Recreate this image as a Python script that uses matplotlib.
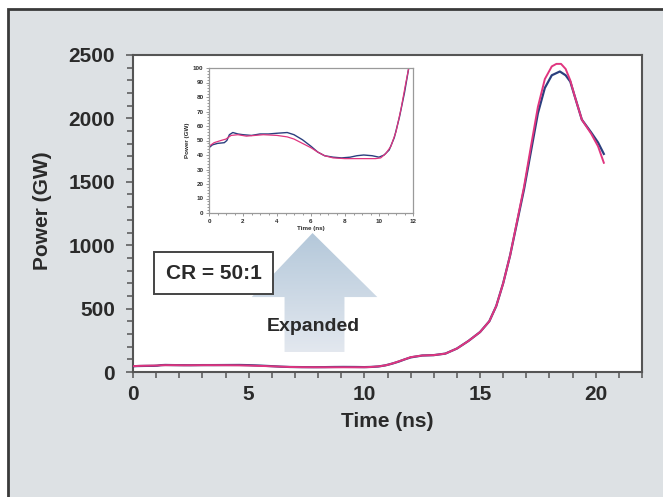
import numpy as np
import matplotlib.pyplot as plt
from matplotlib.patches import Rectangle, Polygon
from matplotlib.ticker import MultipleLocator

# pulse power traces (time in ns, power in GW)
t_blue = [0.0, 0.2, 0.5, 0.9, 1.05, 1.2, 1.4, 1.7, 2.0, 2.5, 3.0, 3.5, 4.0, 4.6, 5.0,
          5.5, 6.0, 6.4, 6.8, 7.3, 7.8, 8.3, 8.7, 9.1, 9.6, 10.0, 10.3, 10.6, 10.9,
          11.2, 11.5, 11.75, 12.0, 12.5, 13.0, 13.5, 14.0, 14.5, 15.0, 15.4, 15.7,
          16.0, 16.3, 16.6, 16.9, 17.2, 17.5, 17.8, 18.1, 18.45, 18.7, 18.9, 19.1,
          19.4, 19.8, 20.1, 20.35]
p_blue = [45, 47, 48, 48.5, 50, 54, 55.5, 54.5, 54, 53.5, 54.5, 54.5, 55, 55.5, 54,
          50.5, 46, 42, 39.5, 38.5, 38, 38.5, 39.5, 40, 39.5, 38.5, 40, 43.5, 52,
          66, 83, 100, 115, 130, 133, 145, 185, 245, 315, 400, 520,
          700, 920, 1180, 1440, 1740, 2040, 2240, 2340, 2370, 2340, 2290, 2170,
          1990, 1890, 1810, 1720]

t_red = [0.0, 0.3, 0.7, 1.0, 1.3, 1.7, 2.2, 2.7, 3.2, 4.0, 4.6, 5.0, 5.5, 6.0, 6.4,
         6.8, 7.3, 8.0, 8.6, 9.2, 9.8, 10.1, 10.4, 10.7, 11.0, 11.3, 11.55, 11.75,
         12.0, 12.5, 13.0, 13.5, 14.0, 14.5, 15.0, 15.4, 15.7, 16.0, 16.3, 16.6,
         16.9, 17.2, 17.5, 17.8, 18.1, 18.3, 18.5, 18.7, 18.9, 19.1, 19.4, 19.8,
         20.1, 20.35]
p_red = [46, 48.5, 50, 51, 53.5, 54, 53, 53.5, 54, 53.5, 52.5, 51, 48, 45, 42,
         39.5, 38, 37.5, 37.5, 37.5, 37.5, 38, 41, 46, 56, 72, 88, 100,
         117, 130, 133, 145, 185, 245, 315, 400, 520, 700, 920, 1190,
         1460, 1780, 2090, 2310, 2410, 2430, 2430, 2390, 2300, 2170, 1990, 1880,
         1780, 1650]

blue = '#2b3f7e'
magenta = '#e0357f'
txt = '#2a2a2a'
bold = dict(fontweight='bold', family=['Liberation Sans', 'DejaVu Sans'])

fig = plt.figure(figsize=(6.63, 4.97), dpi=100)
fig.patch.set_facecolor('white')
fig.patches.append(Rectangle((8 / 663, -0.05), 1.1, 1 - 9 / 497 + 0.05,
                             transform=fig.transFigure, facecolor='#dde1e4',
                             edgecolor='#3a3a3a', linewidth=2, zorder=-10))

ax = fig.add_axes([133 / 663, 1 - 372 / 497, 509 / 663, 317 / 497])
ax.set_facecolor('white')
ax.plot(t_blue, p_blue, color=blue, lw=1.6, zorder=3)
ax.plot(t_red, p_red, color=magenta, lw=1.4, zorder=4)
ax.set_xlim(0, 22)
ax.set_ylim(0, 2500)
ax.xaxis.set_major_locator(MultipleLocator(5))
ax.xaxis.set_minor_locator(MultipleLocator(1))
ax.yaxis.set_major_locator(MultipleLocator(500))
ax.yaxis.set_minor_locator(MultipleLocator(100))
for s in ax.spines.values():
    s.set_color('#555555')
    s.set_linewidth(1.5)
ax.tick_params(which='both', direction='out', color='#555555', width=1.1)
ax.tick_params(axis='y', which='major', length=5, pad=8)
ax.tick_params(axis='x', which='major', length=4, pad=5)
ax.tick_params(which='minor', length=4)
for lab in ax.get_xticklabels() + ax.get_yticklabels():
    lab.set(fontsize=15, color=txt, **bold)
ax.set_xlabel('Time (ns)', fontsize=15, color=txt, **bold)
ax.xaxis.set_label_coords(0.5, -0.125)
ax.set_ylabel('Power (GW)', fontsize=15, color=txt, **bold)
ax.yaxis.set_label_coords(-0.16, 0.51)

# gradient arrow
ax_x = [6.55, 9.14, 9.14, 10.56, 7.76, 5.13, 6.55]
ax_y = [158, 158, 591, 591, 1096, 591, 591]
arrow = Polygon(np.column_stack([ax_x, ax_y]), closed=True, facecolor='none',
                edgecolor='none', transform=ax.transData)
ax.add_patch(arrow)
grad = np.linspace(0, 1, 256).reshape(-1, 1)
img = ax.imshow(grad, cmap=plt.matplotlib.colors.LinearSegmentedColormap.from_list(
    'arr', ['#e3e8ef', '#b4c8da']), extent=[5.13, 10.56, 158, 1096],
    origin='lower', aspect='auto', zorder=1)
img.set_clip_path(arrow)

ax.text(7.8, 360, 'Expanded', fontsize=14, color=txt, ha='center', va='center',
        zorder=5, **bold)
ax.text(3.49, 780, 'CR = 50:1', fontsize=15, color=txt, ha='center', va='center',
        zorder=6, bbox=dict(boxstyle='square,pad=0.55', facecolor='white',
                            edgecolor='#444444', linewidth=1.4), **bold)

# inset: expanded view of the foot
ins = fig.add_axes([209 / 663, 1 - 213 / 497, 204 / 663, 145 / 497])
ins.set_facecolor('white')
ins.plot(t_blue, p_blue, color=blue, lw=1.0)
ins.plot(t_red, p_red, color=magenta, lw=0.9)
ins.set_xlim(0, 12)
ins.set_ylim(0, 100)
ins.xaxis.set_major_locator(MultipleLocator(2))
ins.xaxis.set_minor_locator(MultipleLocator(0.5))
ins.yaxis.set_major_locator(MultipleLocator(10))
ins.yaxis.set_minor_locator(MultipleLocator(2))
for s in ins.spines.values():
    s.set_color('#9a9a9a')
    s.set_linewidth(0.9)
ins.tick_params(which='both', direction='out', color='#888888', width=0.6, pad=2)
ins.tick_params(which='major', length=2)
ins.tick_params(which='minor', length=1.2)
for lab in ins.get_xticklabels() + ins.get_yticklabels():
    lab.set(fontsize=4.5, color=txt, **bold)
ins.set_xlabel('Time (ns)', fontsize=4.5, color=txt, labelpad=2, **bold)
ins.set_ylabel('Power (GW)', fontsize=4.5, color=txt, labelpad=2, **bold)

fig.savefig('out.png', dpi=100)
